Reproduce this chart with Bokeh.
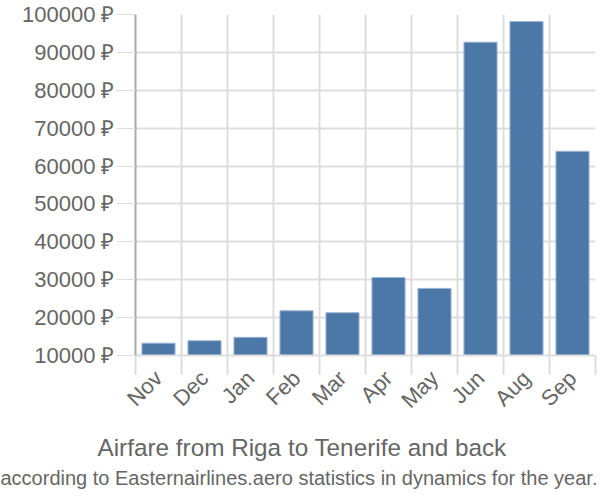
import numpy as np
from bokeh.plotting import figure
from bokeh.models import Range1d, FixedTicker, PrintfTickFormatter, Title, ColumnDataSource
from bokeh.embed import file_html
from bokeh.resources import INLINE

months = ["Nov", "Dec", "Jan", "Feb", "Mar", "Apr", "May", "Jun", "Aug", "Sep"]
prices = [13250, 13900, 14800, 21800, 21300, 30600, 27700, 92700, 98150, 63900]
y_ticks = [10000, 20000, 30000, 40000, 50000, 60000, 70000, 80000, 90000, 100000]
title_text = "Airfare from Riga to Tenerife and back"
subtitle_text = "according to Easternairlines.aero statistics in dynamics for the year."

xpos = [i + 0.5 for i in range(len(months))]
src = ColumnDataSource(dict(x=xpos, top=prices))

p = figure(width=600, height=500, output_backend="svg", toolbar_location=None,
           x_range=Range1d(0, len(months)), y_range=Range1d(10000, 100000))
p.min_border_left = 135
p.min_border_right = 5
p.min_border_top = 14
p.min_border_bottom = 145
p.outline_line_color = None

p.vbar(x="x", top="top", bottom=10000, width=0.72, source=src,
       fill_color="#4c78a8", line_color="#9db6d3", line_width=1)

# x axis
p.xaxis.ticker = FixedTicker(ticks=xpos, minor_ticks=list(range(len(months) + 1)))
p.xaxis.major_label_overrides = {x: m for x, m in zip(xpos, months)}
p.xaxis.major_label_orientation = np.pi / 4
p.xaxis.major_tick_out = 0
p.xaxis.major_tick_in = 0
p.xaxis.minor_tick_out = 19
p.xaxis.minor_tick_in = 0
p.xaxis.minor_tick_line_color = "#dddddd"
p.xaxis.minor_tick_line_width = 2
p.xaxis.axis_line_color = "#dddddd"
p.xaxis.axis_line_width = 2
p.xaxis.major_label_text_font = "Liberation Sans"
p.xaxis.major_label_text_font_size = "22px"
p.xaxis.major_label_text_color = "#666666"
p.xaxis.major_label_standoff = 0

# y axis
p.yaxis.ticker = FixedTicker(ticks=y_ticks)
p.yaxis.formatter = PrintfTickFormatter(format="%d ₽")
p.yaxis.major_tick_out = 19
p.yaxis.major_tick_in = 0
p.yaxis.minor_tick_line_color = None
p.yaxis.major_tick_line_color = "#dddddd"
p.yaxis.major_tick_line_width = 1
p.yaxis.axis_line_color = "#aaaaaa"
p.yaxis.axis_line_width = 2
p.yaxis.major_label_text_font = "Liberation Sans"
p.yaxis.major_label_text_font_size = "22px"
p.yaxis.major_label_text_color = "#666666"
p.yaxis.major_label_standoff = 2

# grids
p.xgrid.ticker = FixedTicker(ticks=list(range(len(months) + 1)))
p.xgrid.grid_line_color = "#dddddd"
p.xgrid.grid_line_width = 2
p.ygrid.grid_line_color = "#dddddd"
p.ygrid.grid_line_width = 2

t1 = Title(text=title_text, align="left", offset=-38, standoff=14,
           text_font="Liberation Sans", text_font_size="24.3px",
           text_font_style="normal", text_color="#666666")
t2 = Title(text=subtitle_text, align="left", offset=-135, standoff=-6,
           text_font="Liberation Sans", text_font_size="20px",
           text_font_style="normal", text_color="#666666")
p.add_layout(t1, "below")
p.add_layout(t2, "below")

open("out.html", "w").write(file_html(p, INLINE))
